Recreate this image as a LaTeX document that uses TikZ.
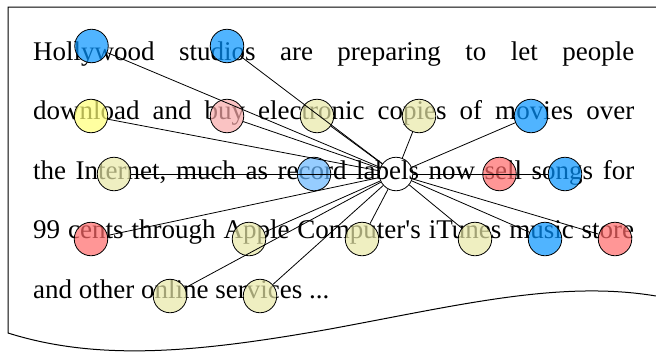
\documentclass[tikz,border=0pt]{standalone}
\usepackage{fontspec}
\newfontfamily\tms{Liberation Serif}
\definecolor{cblue}{RGB}{5,148,255}
\definecolor{clblue}{RGB}{105,184,255}
\definecolor{cpink}{RGB}{248,169,169}
\definecolor{cred}{RGB}{255,105,105}
\definecolor{cyellow}{RGB}{255,255,119}
\definecolor{colive}{RGB}{232,232,167}
\tikzset{
  txt/.style={anchor=base west, inner sep=0pt, font=\tms\fontsize{27}{27}\selectfont},
  circ/.style={circle, draw=black, line width=0.8pt, minimum size=33.5pt, inner sep=0pt, fill opacity=0.7},
  link/.style={draw=black, line width=0.8pt},
  frame/.style={draw=black, line width=1pt}
}
\begin{document}
\begin{tikzpicture}[x=1pt,y=-1pt]
\useasboundingbox (0,0) rectangle (656,351);
% document frame
\draw[frame] (656,7) -- (8,7) -- (8,333)
  .. controls (100,362) and (200,352) .. (330,329)
  .. controls (460,305) and (560,280) .. (656,296);
% text
\node[txt] (l1) at (33,60) {\hbox to 601pt{Hollywood\hfill studios\hfill are\hfill preparing\hfill to\hfill let\hfill people}};
\node[txt] (l2) at (33,119.5) {\hbox to 601pt{download\hfill and\hfill buy\hfill electronic\hfill copies\hfill of\hfill movies\hfill over}};
\node[txt] (l3) at (33,179) {\hbox to 601pt{the\hfill Internet,\hfill much\hfill as\hfill record\hfill labels\hfill now\hfill sell\hfill songs\hfill for}};
\node[txt] (l4) at (33,238.5) {\hbox to 601pt{99\hfill cents\hfill through\hfill Apple\hfill Computer's\hfill iTunes\hfill music\hfill store}};
\node[txt] (l5) at (33,298) {and other online services ...};
% circles
\node[circ, fill=none] (c0) at (396,174) {};
\node[circ, fill=cblue]   (n1)  at (91.5,46) {};
\node[circ, fill=cblue]   (n2)  at (227,46) {};
\node[circ, fill=cyellow] (n3)  at (91,116) {};
\node[circ, fill=cpink]   (n4)  at (227,116) {};
\node[circ, fill=colive]  (n5)  at (317,116) {};
\node[circ, fill=colive]  (n6)  at (419,116) {};
\node[circ, fill=cblue]   (n7)  at (531,116) {};
\node[circ, fill=colive]  (n8)  at (114,174) {};
\node[circ, fill=clblue]  (n9)  at (314,174) {};
\node[circ, fill=cred]    (n10) at (499.5,174) {};
\node[circ, fill=cblue]   (n11) at (565,174) {};
\node[circ, fill=cred]    (n12) at (91,239) {};
\node[circ, fill=colive]  (n13) at (249,239) {};
\node[circ, fill=colive]  (n14) at (362,239) {};
\node[circ, fill=colive]  (n15) at (475,239) {};
\node[circ, fill=cblue]   (n16) at (545,239) {};
\node[circ, fill=cred]    (n17) at (615,239) {};
\node[circ, fill=colive]  (n18) at (170,296) {};
\node[circ, fill=colive]  (n19) at (260,296) {};
% connectors
\foreach \i in {1,...,19} { \draw[link] (c0) -- (n\i); }
\end{tikzpicture}
\end{document}
